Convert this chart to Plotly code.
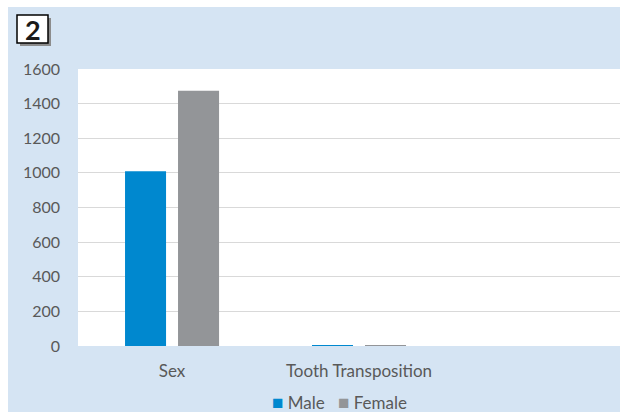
import plotly.graph_objects as go

categories = ["Sex", "Tooth Transposition"]
male = [1010, 5]
female = [1475, 4]
y_ticks = [0, 200, 400, 600, 800, 1000, 1200, 1400, 1600]

W, H = 620, 413
L, R, T, B = 78, 0, 69, 67
pw, ph = W - L - R, H - T - B

def px(x):
    return (x - L) / pw

def py(y):
    return 1 - (y - T) / ph

MALE_C, FEMALE_C = "#0088cf", "#939598"

fig = go.Figure()
fig.add_trace(go.Bar(name="Male", x=list(range(len(categories))), y=male,
                     marker=dict(color=MALE_C, line=dict(width=0))))
fig.add_trace(go.Bar(name="Female", x=list(range(len(categories))), y=female,
                     marker=dict(color=FEMALE_C, line=dict(width=0))))

FAM = "Lato, Open Sans, sans-serif"
font = dict(family=FAM, size=16, color="#595959")

fig.update_layout(
    width=W, height=H,
    margin=dict(l=L, r=R, t=T, b=B, pad=0, autoexpand=False),
    paper_bgcolor="#d5e4f3",
    plot_bgcolor="white",
    barmode="group",
    bargap=0.433,
    bargroupgap=0.226,
    font=font,
    showlegend=False,
    xaxis=dict(tickmode="array", tickvals=list(range(len(categories))), ticktext=categories,
               range=[-0.503, 2.396], showgrid=False, zeroline=False, showline=False,
               ticks="", ticklabelstandoff=13, fixedrange=True,
               tickfont=dict(family=FAM, size=17, color="#595959")),
    yaxis=dict(range=[0, 1600], tickvals=y_ticks, showgrid=True, gridcolor="#d9d9d9",
               gridwidth=1, zeroline=False,
               showline=False, ticks="", ticklabelstandoff=17),
    shapes=[
        dict(type="rect", xref="paper", yref="paper", x0=px(-5), x1=px(W + 5), y0=py(-5), y1=py(7),
             fillcolor="white", line=dict(width=0), layer="below"),
        dict(type="rect", xref="paper", yref="paper", x0=px(-5), x1=px(8), y0=py(-5), y1=py(H + 5),
             fillcolor="white", line=dict(width=0), layer="below"),
        dict(type="rect", xref="paper", yref="paper", x0=px(-5), x1=px(W + 5), y0=py(412), y1=py(H + 5),
             fillcolor="white", line=dict(width=0), layer="below"),
        # shadow of number box
        dict(type="rect", xref="paper", yref="paper", x0=px(20), x1=px(51), y0=py(18), y1=py(46),
             fillcolor="#8c8c8c", line=dict(width=0), layer="above"),
        dict(type="rect", xref="paper", yref="paper", x0=px(17), x1=px(48), y0=py(15), y1=py(43),
             fillcolor="white", line=dict(width=1.5, color="black"), layer="above"),
    ],
    annotations=[
        dict(text="<b>2</b>", xref="paper", yref="paper", x=px(32.5), y=py(29.5),
             xanchor="center", yanchor="middle", showarrow=False,
             font=dict(family=FAM, size=27, color="#1a1a1a")),
        dict(text=f"<span style='color:{MALE_C};font-size:19px'>■</span> Male   "
                  f"<span style='color:{FEMALE_C};font-size:19px'>■</span> Female",
             xref="paper", yref="paper", x=px(339.5), y=py(401),
             xanchor="center", yanchor="middle", showarrow=False,
             font=dict(family=FAM, size=17, color="#595959")),
    ],
)

fig.write_html("out.html")
